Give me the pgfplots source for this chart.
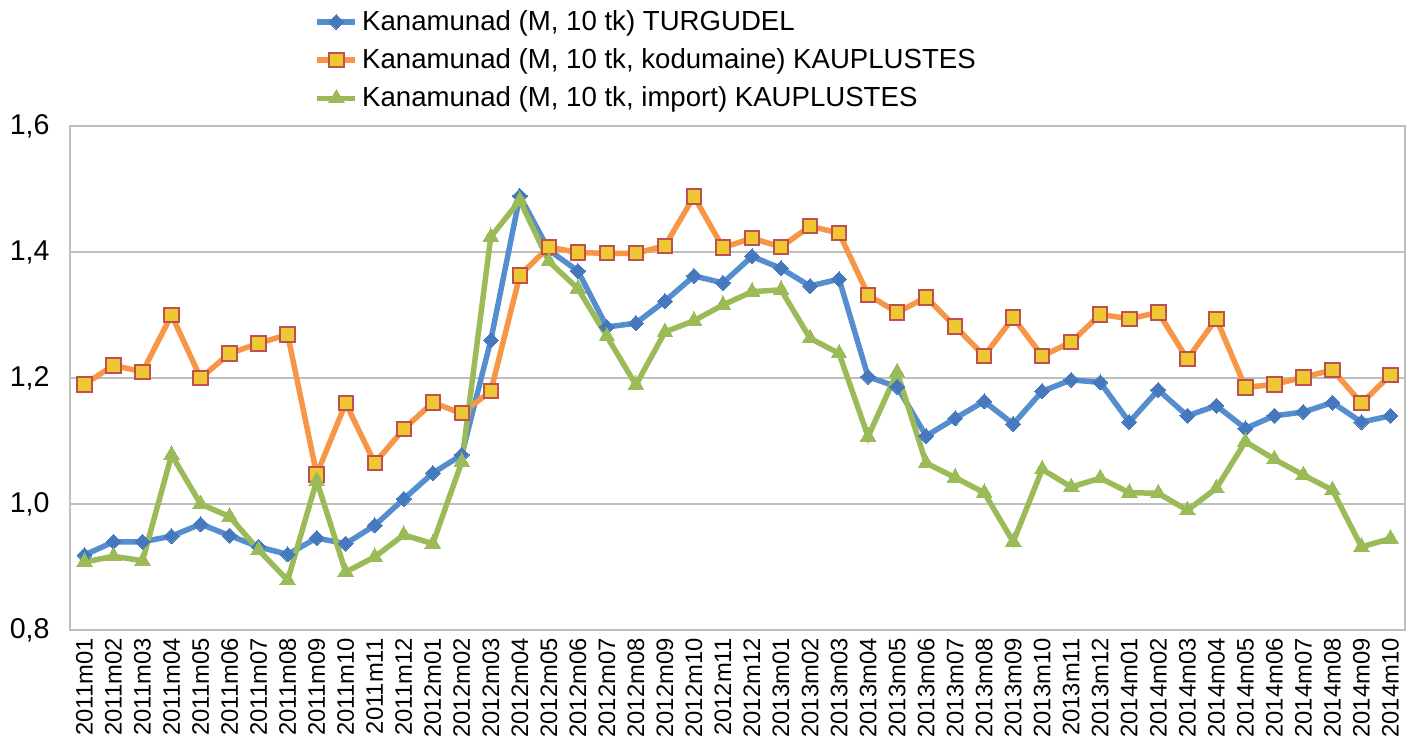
\documentclass[border=0pt]{standalone}
\usepackage{pgfplots}
\pgfplotsset{compat=1.18}
\usepackage{fontspec}
\setmainfont{Liberation Sans}
\definecolor{bline}{RGB}{85,142,206}
\definecolor{bmark}{RGB}{70,120,190}
\definecolor{oline}{RGB}{247,150,70}
\definecolor{ofill}{RGB}{238,200,50}
\definecolor{oedge}{RGB}{192,80,77}
\definecolor{gline}{RGB}{155,187,89}
\definecolor{gridc}{RGB}{191,191,191}
\begin{document}
\begin{tikzpicture}
\useasboundingbox (-35pt,-52.5pt) rectangle (671.5pt,315pt);
\begin{axis}[
  at={(0,0)}, anchor=south west,
  scale only axis, width=667.5pt, height=252pt,
  xmin=-0.5, xmax=45.5, ymin=0.8, ymax=1.6,
  xtick={0,...,45},
  xticklabels={2011m01,2011m02,2011m03,2011m04,2011m05,2011m06,2011m07,2011m08,2011m09,2011m10,2011m11,2011m12,2012m01,2012m02,2012m03,2012m04,2012m05,2012m06,2012m07,2012m08,2012m09,2012m10,2012m11,2012m12,2013m01,2013m02,2013m03,2013m04,2013m05,2013m06,2013m07,2013m08,2013m09,2013m10,2013m11,2013m12,2014m01,2014m02,2014m03,2014m04,2014m05,2014m06,2014m07,2014m08,2014m09,2014m10},
  ytick={0.8,1.0,1.2,1.4,1.6},
  yticklabels={{0,8},{1,0},{1,2},{1,4},{1,6}},
  /pgf/number format/assume math mode=true,
  major tick length=0pt,
  xticklabel style={rotate=90, anchor=east, font=\fontsize{11.9}{13}\selectfont, inner sep=0pt, xshift=-4pt},
  yticklabel style={font=\fontsize{14.3}{17}\selectfont, inner sep=0pt, xshift=-10pt},
  ymajorgrids, grid style={gridc, line width=1pt},
  axis line style={gridc, line width=1pt},
  legend cell align=left,
  legend style={draw=none, fill=none, at={(rel axis cs:0.183,1.238)}, anchor=north west,
    font=\fontsize{13.8}{16.5}\selectfont, row sep=3.6pt, inner sep=0pt},
  legend image code/.code={\draw[#1, mark repeat=2, mark phase=2] plot coordinates {(0pt,0pt) (9.5pt,0pt) (19pt,0pt)};},
  clip=false,
]
\addplot[bline, line width=2.75pt, mark=diamond*, mark size=3.75pt,
  mark options={bmark, fill=bmark, line width=0pt, xscale=1.33}] coordinates {
(0,0.919)(1,0.940)(2,0.940)(3,0.949)(4,0.968)(5,0.950)(6,0.932)(7,0.920)(8,0.946)(9,0.937)(10,0.966)(11,1.008)
(12,1.049)(13,1.078)(14,1.260)(15,1.489)(16,1.403)(17,1.370)(18,1.281)(19,1.287)(20,1.322)(21,1.362)(22,1.351)(23,1.393)
(24,1.374)(25,1.346)(26,1.357)(27,1.202)(28,1.186)(29,1.108)(30,1.136)(31,1.163)(32,1.127)(33,1.179)(34,1.197)(35,1.193)
(36,1.130)(37,1.181)(38,1.140)(39,1.156)(40,1.120)(41,1.140)(42,1.146)(43,1.161)(44,1.130)(45,1.140)};
\addlegendentry{Kanamunad (M, 10 tk) TURGUDEL}
\addplot[oline, line width=2.75pt, mark=square*, mark size=3.6pt,
  mark options={draw=oedge, fill=ofill, line width=1pt}] coordinates {
(0,1.190)(1,1.220)(2,1.210)(3,1.300)(4,1.200)(5,1.239)(6,1.255)(7,1.269)(8,1.047)(9,1.160)(10,1.065)(11,1.119)
(12,1.161)(13,1.144)(14,1.179)(15,1.363)(16,1.408)(17,1.399)(18,1.398)(19,1.398)(20,1.410)(21,1.488)(22,1.407)(23,1.422)
(24,1.408)(25,1.441)(26,1.430)(27,1.332)(28,1.304)(29,1.328)(30,1.282)(31,1.235)(32,1.296)(33,1.235)(34,1.257)(35,1.301)
(36,1.294)(37,1.304)(38,1.230)(39,1.294)(40,1.185)(41,1.190)(42,1.201)(43,1.213)(44,1.160)(45,1.205)};
\addlegendentry{Kanamunad (M, 10 tk, kodumaine) KAUPLUSTES}
\addplot[gline, line width=2.75pt, mark=triangle*, mark size=4.5pt,
  mark options={gline, fill=gline, line width=0pt}] coordinates {
(0,0.908)(1,0.917)(2,0.910)(3,1.078)(4,1.000)(5,0.980)(6,0.927)(7,0.879)(8,1.037)(9,0.892)(10,0.916)(11,0.951)
(12,0.937)(13,1.067)(14,1.424)(15,1.482)(16,1.385)(17,1.342)(18,1.266)(19,1.189)(20,1.273)(21,1.291)(22,1.316)(23,1.337)
(24,1.340)(25,1.263)(26,1.239)(27,1.107)(28,1.209)(29,1.065)(30,1.042)(31,1.018)(32,0.940)(33,1.055)(34,1.027)(35,1.041)
(36,1.018)(37,1.017)(38,0.990)(39,1.025)(40,1.099)(41,1.071)(42,1.046)(43,1.022)(44,0.932)(45,0.945)};
\addlegendentry{Kanamunad (M, 10 tk, import) KAUPLUSTES}
\end{axis}
\end{tikzpicture}
\end{document}
